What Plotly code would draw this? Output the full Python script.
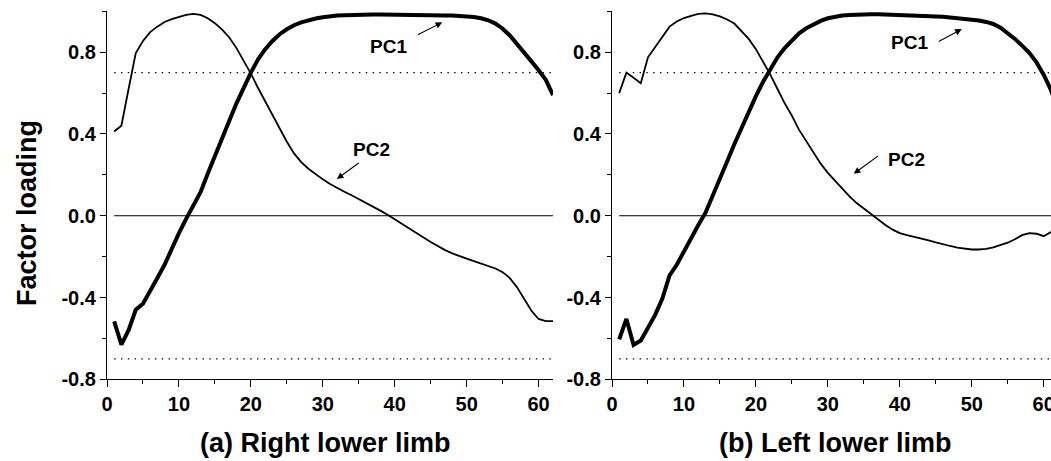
import plotly.graph_objects as go

# ---------------- data ----------------
frames = list(range(1, 63))

right_pc1 = [-0.517, -0.630, -0.560, -0.460, -0.430, -0.370, -0.305, -0.240, -0.160, -0.085,
             -0.015, 0.050, 0.115, 0.205, 0.295, 0.385, 0.465, 0.550, 0.630, 0.700,
             0.765, 0.815, 0.855, 0.888, 0.912, 0.932, 0.946, 0.957, 0.965, 0.971,
             0.976, 0.979, 0.981, 0.983, 0.984, 0.984, 0.984, 0.984, 0.984, 0.984,
             0.983, 0.983, 0.983, 0.982, 0.982, 0.981, 0.980, 0.979, 0.977, 0.975,
             0.972, 0.966, 0.956, 0.940, 0.915, 0.882, 0.842, 0.798, 0.755, 0.712,
             0.665, 0.590]

right_pc2 = [0.412, 0.440, 0.620, 0.796, 0.855, 0.898, 0.925, 0.948, 0.962, 0.972,
             0.982, 0.987, 0.982, 0.966, 0.942, 0.910, 0.872, 0.820, 0.760, 0.695,
             0.625, 0.558, 0.490, 0.425, 0.362, 0.305, 0.262, 0.230, 0.202, 0.178,
             0.155, 0.135, 0.117, 0.100, 0.082, 0.062, 0.045, 0.025, 0.005, -0.018,
             -0.040, -0.062, -0.085, -0.106, -0.128, -0.150, -0.168, -0.184, -0.198, -0.210,
             -0.222, -0.233, -0.245, -0.258, -0.276, -0.305, -0.350, -0.410, -0.465, -0.505,
             -0.515, -0.515]

left_pc1 = [-0.605, -0.505, -0.632, -0.610, -0.548, -0.485, -0.405, -0.292, -0.240, -0.172,
            -0.105, -0.045, 0.015, 0.095, 0.175, 0.265, 0.350, 0.432, 0.510, 0.585,
            0.655, 0.720, 0.775, 0.820, 0.858, 0.892, 0.917, 0.937, 0.953, 0.966,
            0.974, 0.979, 0.982, 0.984, 0.985, 0.985, 0.985, 0.984, 0.984, 0.983,
            0.982, 0.981, 0.979, 0.977, 0.975, 0.973, 0.970, 0.967, 0.963, 0.960,
            0.955, 0.948, 0.938, 0.920, 0.895, 0.865, 0.832, 0.797, 0.750, 0.690,
            0.615, 0.520]

left_pc2 = [0.600, 0.700, 0.675, 0.648, 0.775, 0.825, 0.875, 0.925, 0.950, 0.967,
            0.978, 0.987, 0.990, 0.985, 0.975, 0.960, 0.940, 0.905, 0.865, 0.815,
            0.755, 0.690, 0.620, 0.550, 0.490, 0.420, 0.365, 0.310, 0.255, 0.210,
            0.170, 0.130, 0.095, 0.062, 0.035, 0.010, -0.018, -0.045, -0.068, -0.085,
            -0.095, -0.103, -0.110, -0.120, -0.130, -0.140, -0.148, -0.156, -0.162, -0.165,
            -0.165, -0.162, -0.155, -0.143, -0.132, -0.115, -0.095, -0.085, -0.088, -0.100,
            -0.080, -0.070]

ref_x = [1, 62]
threshold_levels = [0.7, -0.7]
zero_level = [0.0]

y_ticks = [-0.8, -0.4, 0.0, 0.4, 0.8]
y_ticktext = ["-0.8", "-0.4", "0.0", "0.4", "0.8"]
x_ticks = [0, 10, 20, 30, 40, 50, 60]

panel_titles = ["(a) Right lower limb", "(b) Left lower limb"]
y_title = "Factor loading"

# ---------------- figure ----------------
W, H = 1051, 461
FONT = "Liberation Sans, Arial, sans-serif"

fig = go.Figure()

panels = [("x", "y", right_pc1, right_pc2), ("x2", "y2", left_pc1, left_pc2)]
for xa, ya, pc1, pc2 in panels:
    for lvl in threshold_levels:
        fig.add_trace(go.Scatter(x=ref_x, y=[lvl, lvl], mode="lines", xaxis=xa, yaxis=ya,
                                 line=dict(color="black", width=1.3, dash="1.4px,5.4px"),
                                 showlegend=False, hoverinfo="skip"))
    for lvl in zero_level:
        fig.add_trace(go.Scatter(x=ref_x, y=[lvl, lvl], mode="lines", xaxis=xa, yaxis=ya,
                                 line=dict(color="black", width=1), showlegend=False,
                                 hoverinfo="skip"))
    fig.add_trace(go.Scatter(x=frames, y=pc2, mode="lines", xaxis=xa, yaxis=ya, name="PC2",
                             line=dict(color="black", width=1.8), showlegend=False))
    fig.add_trace(go.Scatter(x=frames, y=pc1, mode="lines", xaxis=xa, yaxis=ya, name="PC1",
                             line=dict(color="black", width=4), showlegend=False))

tickfont = dict(family=FONT, size=20, color="black", weight="bold")
common_x = dict(showline=True, linecolor="black", linewidth=1.3, ticks="outside",
                ticklen=7, tickwidth=1.3, tickcolor="black", tickvals=x_ticks,
                tickfont=tickfont, showgrid=False, zeroline=False, automargin=False,
                ticklabeloverflow="allow",
                minor=dict(ticks="outside", ticklen=4, tickwidth=1.3, tickcolor="black",
                           dtick=5, tick0=0, showgrid=False))
common_y = dict(showline=True, linecolor="black", linewidth=1.3, ticks="outside",
                ticklen=6, tickwidth=1.3, tickcolor="black", tickvals=y_ticks,
                ticktext=y_ticktext, tickfont=tickfont, showgrid=False, zeroline=False,
                range=[-0.8, 1.0], automargin=False,
                minor=dict(ticks="outside", ticklen=4, tickwidth=1.3, tickcolor="black",
                           dtick=0.2, tick0=-0.8, showgrid=False))

ydom = [1 - 379.3 / H, 1 - 11.3 / H]
fig.update_layout(
    width=W, height=H, autosize=False,
    margin=dict(l=0, r=0, t=0, b=0, pad=0),
    paper_bgcolor="white", plot_bgcolor="white",
    xaxis=dict(domain=[107 / W, 553 / W], range=[0, 62], anchor="y", **common_x),
    yaxis=dict(domain=ydom, anchor="x", **common_y),
    xaxis2=dict(domain=[612 / W, 1.0], range=[0, (W - 612) / 7.195], anchor="y2", **common_x),
    yaxis2=dict(domain=ydom, anchor="x2", **common_y),
    font=dict(family=FONT, color="black"),
)

ann_font = dict(family=FONT, size=19, color="black", weight="bold")
arrows = [
    # (xref, yref, text x, text y, tail x, tail y, head x, head y, label)
    ("x", "y", 39.2, 0.828, 43.0, 0.881, 46.6, 0.946, "PC1"),
    ("x", "y", 36.75, 0.323, 35.2, 0.263, 31.95, 0.180, "PC2"),
    ("x2", "y2", 41.3, 0.845, 45.2, 0.848, 48.6, 0.913, "PC1"),
    ("x2", "y2", 40.9, 0.277, 37.2, 0.298, 33.6, 0.205, "PC2"),
]
for xr, yr, tx, ty, ax_, ay_, hx, hy, lab in arrows:
    fig.add_annotation(x=tx, y=ty, xref=xr, yref=yr, text=lab, showarrow=False, font=ann_font)
    fig.add_annotation(x=hx, y=hy, xref=xr, yref=yr, ax=ax_, ay=ay_, axref=xr, ayref=yr,
                       text="", showarrow=True, arrowhead=2, arrowsize=1.2, arrowwidth=1.1,
                       arrowcolor="black", standoff=0, startstandoff=0)

title_font = dict(family=FONT, size=27, color="black", weight="bold")
fig.add_annotation(x=325 / W, y=1 - 443 / H, xref="paper", yref="paper", text=panel_titles[0],
                   showarrow=False, font=title_font, xanchor="center", yanchor="middle")
fig.add_annotation(x=835 / W, y=1 - 443 / H, xref="paper", yref="paper", text=panel_titles[1],
                   showarrow=False, font=title_font, xanchor="center", yanchor="middle")
fig.add_annotation(x=27 / W, y=1 - 213 / H, xref="paper", yref="paper", text=y_title,
                   textangle=-90, showarrow=False, font=title_font,
                   xanchor="center", yanchor="middle")

fig.write_html(
    "out.html",
    config={"displayModeBar": False},
    post_script="document.body.style.margin='0px';document.body.style.padding='0px';"
                "document.documentElement.style.overflow='hidden';",
)
